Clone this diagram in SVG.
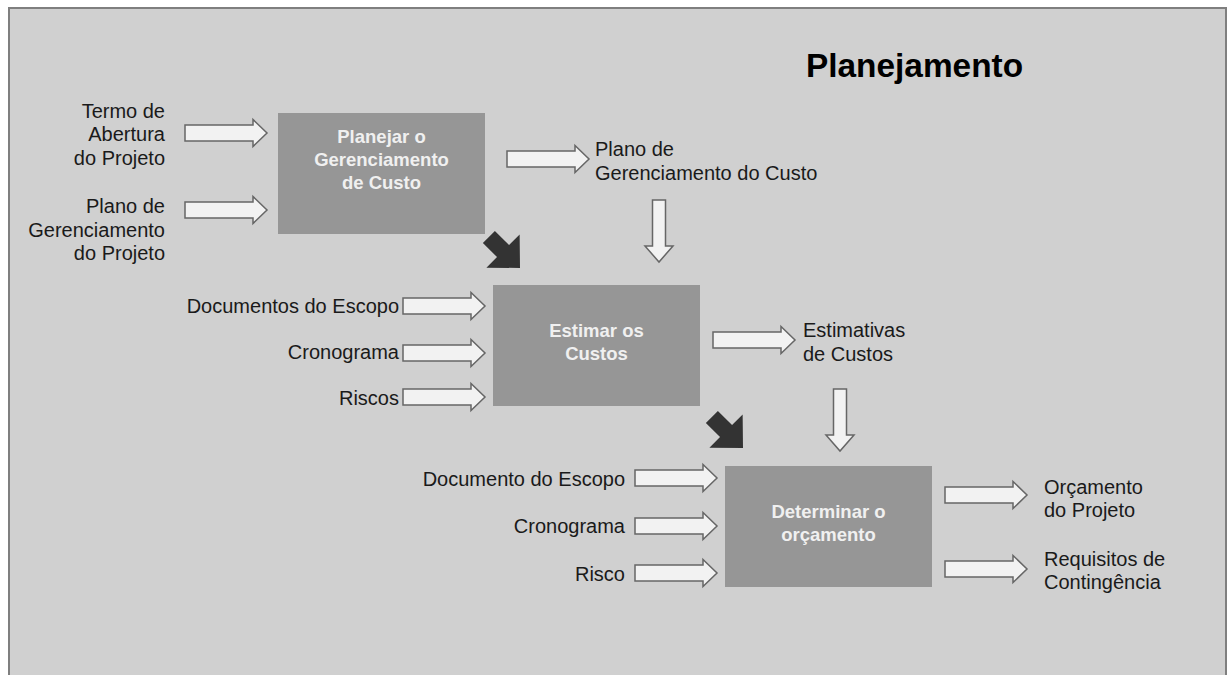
<svg xmlns="http://www.w3.org/2000/svg" xmlns:xlink="http://www.w3.org/1999/xlink" width="1231" height="675" viewBox="0 0 1231 675">
  <style>
    text { font-family: "Liberation Sans", Arial, sans-serif; }
    .lbl { font-size: 20px; fill: #1a1a1a; }
    .r { text-anchor: end; }
    .box { fill: #969696; }
    .boxtxt { font-size: 18.5px; font-weight: bold; fill: #f0f0f0; text-anchor: middle; }
    .title { font-size: 33.4px; font-weight: bold; fill: #000; }
    .blk { fill: #f2f2f2; stroke: #666; stroke-width: 1.5; stroke-linejoin: miter; }
    .dark { fill: #333; }
  </style>
  <defs>
    <!-- hollow block arrow pointing right, origin at left-middle -->
    <path id="arrowR" class="blk" d="M0,-8 H68 V-13.5 L82,0 L68,13.5 V8 H0 Z"/>
    <!-- hollow block arrow pointing down, origin at top-centre -->
    <path id="arrowD" class="blk" d="M-6.5,0 H6.5 V46 H14 L0,62 L-14,46 H-6.5 Z"/>
    <!-- solid arrow, tip at origin, pointing +x -->
    <path id="arrowDark" class="dark" d="M0,0 L-24,-23.5 V-8.5 H-44 V8.5 H-24 V23.5 Z"/>
  </defs>

  <rect x="0" y="0" width="1231" height="675" fill="#ffffff"/>
  <rect x="9" y="8" width="1217" height="690" fill="#d0d0d0" stroke="#7f7f7f" stroke-width="2"/>

  <text class="title" x="806" y="77">Planejamento</text>

  <!-- process boxes -->
  <g id="planejar">
    <rect class="box" x="278" y="113" width="207" height="121"/>
    <text class="boxtxt" x="381.5" y="143">Planejar o<tspan x="381.5" dy="23">Gerenciamento</tspan><tspan x="381.5" dy="23">de Custo</tspan></text>
  </g>
  <g id="estimar">
    <rect class="box" x="493" y="285" width="207" height="121"/>
    <text class="boxtxt" x="596.5" y="337">Estimar os<tspan x="596.5" dy="23">Custos</tspan></text>
  </g>
  <g id="determinar">
    <rect class="box" x="725" y="466" width="207" height="121"/>
    <text class="boxtxt" x="828.5" y="518">Determinar o<tspan x="828.5" dy="23">orçamento</tspan></text>
  </g>

  <!-- inputs and outputs -->
  <g id="in-termo">
    <text class="lbl r" x="165" y="118">Termo de<tspan x="165" dy="23.3">Abertura</tspan><tspan x="165" dy="23.3">do Projeto</tspan></text>
  </g>
  <g id="in-plano-projeto">
    <text class="lbl r" x="165" y="213">Plano de<tspan x="165" dy="23.5">Gerenciamento</tspan><tspan x="165" dy="23.5">do Projeto</tspan></text>
  </g>
  <g id="out-plano-custo">
    <text class="lbl" x="595" y="156">Plano de<tspan x="595" dy="24">Gerenciamento do Custo</tspan></text>
  </g>
  <g id="in-documentos">
    <text class="lbl r" x="399" y="313">Documentos do Escopo</text>
  </g>
  <g id="in-cronograma-1">
    <text class="lbl r" x="399" y="359">Cronograma</text>
  </g>
  <g id="in-riscos">
    <text class="lbl r" x="399" y="405">Riscos</text>
  </g>
  <g id="out-estimativas">
    <text class="lbl" x="803" y="337">Estimativas<tspan x="803" dy="24">de Custos</tspan></text>
  </g>
  <g id="in-documento">
    <text class="lbl r" x="625" y="486">Documento do Escopo</text>
  </g>
  <g id="in-cronograma-2">
    <text class="lbl r" x="625" y="533">Cronograma</text>
  </g>
  <g id="in-risco">
    <text class="lbl r" x="625" y="581">Risco</text>
  </g>
  <g id="out-orcamento">
    <text class="lbl" x="1044" y="494">Orçamento<tspan x="1044" dy="23">do Projeto</tspan></text>
  </g>
  <g id="out-requisitos">
    <text class="lbl" x="1044" y="566">Requisitos de<tspan x="1044" dy="23">Contingência</tspan></text>
  </g>

  <!-- connectors -->
  <g id="connectors">
    <use xlink:href="#arrowR" x="185" y="133"/>
    <use xlink:href="#arrowR" x="185" y="210"/>
    <use xlink:href="#arrowR" x="507" y="159"/>
    <use xlink:href="#arrowR" x="403" y="306"/>
    <use xlink:href="#arrowR" x="403" y="353"/>
    <use xlink:href="#arrowR" x="403" y="397"/>
    <use xlink:href="#arrowR" x="713" y="340"/>
    <use xlink:href="#arrowR" x="635" y="478"/>
    <use xlink:href="#arrowR" x="635" y="526"/>
    <use xlink:href="#arrowR" x="635" y="573"/>
    <use xlink:href="#arrowR" x="945" y="495"/>
    <use xlink:href="#arrowR" x="945" y="569"/>
    <use xlink:href="#arrowD" x="659" y="200"/>
    <use xlink:href="#arrowD" x="840" y="389"/>
    <use xlink:href="#arrowDark" transform="translate(520,268) rotate(45)"/>
    <use xlink:href="#arrowDark" transform="translate(743,448) rotate(45)"/>
  </g>
</svg>
